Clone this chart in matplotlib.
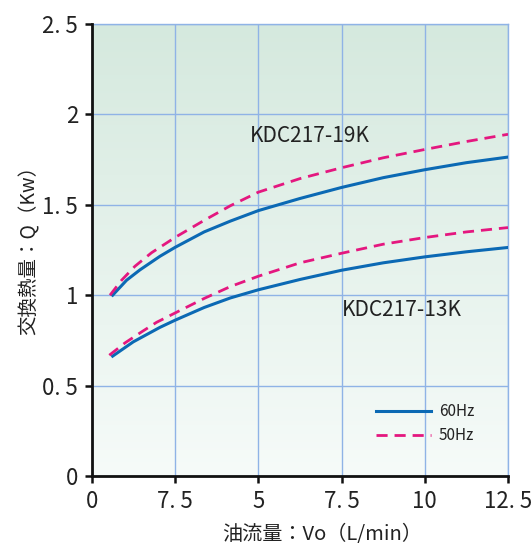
import matplotlib
matplotlib.use("Agg")
import matplotlib.pyplot as plt
import numpy as np

# ---- data ----
x_19k_60 = [0.62, 1.04, 1.44, 2.04, 2.5, 3.37, 4.16, 5.0, 6.25, 7.5, 8.75, 10.0, 11.25, 12.5]
q_19k_60 = [1.00, 1.083, 1.14, 1.215, 1.265, 1.35, 1.41, 1.468, 1.535, 1.596, 1.65, 1.694, 1.733, 1.764]
x_19k_50 = [0.54, 0.89, 1.29, 1.79, 2.5, 3.37, 4.16, 5.0, 6.25, 7.5, 8.75, 10.0, 11.25, 12.5]
q_19k_50 = [1.00, 1.083, 1.16, 1.235, 1.32, 1.414, 1.495, 1.57, 1.645, 1.705, 1.76, 1.806, 1.85, 1.89]
x_13k_60 = [0.62, 1.24, 2.04, 2.5, 3.37, 4.16, 5.0, 6.25, 7.5, 8.75, 10.0, 11.25, 12.5]
q_13k_60 = [0.663, 0.742, 0.822, 0.862, 0.932, 0.985, 1.03, 1.087, 1.138, 1.179, 1.212, 1.24, 1.264]
x_13k_50 = [0.52, 0.99, 1.49, 1.94, 2.5, 3.37, 4.16, 5.0, 6.25, 7.5, 8.75, 10.0, 11.25, 12.5]
q_13k_50 = [0.668, 0.736, 0.797, 0.85, 0.902, 0.982, 1.048, 1.105, 1.179, 1.232, 1.282, 1.319, 1.35, 1.374]

x_ticks = [0, 2.5, 5, 7.5, 10, 12.5]
x_tick_labels = ["0", "7. 5", "5", "7. 5", "10", "12. 5"]
y_ticks = [0, 0.5, 1, 1.5, 2, 2.5]
y_tick_labels = ["0", "0. 5", "1", "1. 5", "2", "2. 5"]

series_labels = ["60Hz", "50Hz"]
model_labels = ["KDC217-19K", "KDC217-13K"]
x_label = "油流量：Vo（L/min）"
y_label = "交換熱量：Q（Kw）"

BLUE = "#0b69b4"
PINK = "#e4177f"
GRID = "#8fb3e6"
TXT = "#222222"
FONT = ["Noto Sans CJK JP", "DejaVu Sans"]

fig = plt.figure(figsize=(5.32, 5.47), dpi=100)
ax = fig.add_axes([92/532, 1-476/547, (508-92)/532, (476-24)/547])
ax.set_xlim(0, 12.5)
ax.set_ylim(0, 2.5)

# gradient background
top = np.array([213, 233, 222]) / 255
bot = np.array([246, 251, 249]) / 255
t = np.linspace(0, 1, 256)[:, None]
grad = (top[None, :] * (1 - t) + bot[None, :] * t)[:, None, :]
ax.imshow(grad, extent=[0, 12.5, 0, 2.5], aspect="auto", zorder=0, origin="upper")

ax.set_xticks(x_ticks)
ax.set_yticks(y_ticks)
ax.grid(True, color=GRID, linewidth=1.0, zorder=1)
ax.set_axisbelow(False)

ln60, = ax.plot(x_19k_60, q_19k_60, color=BLUE, lw=2.2, zorder=3, label=series_labels[0],
                solid_joinstyle="round")
ln50, = ax.plot(x_19k_50, q_19k_50, color=PINK, lw=2.0, dashes=(4, 2.5), zorder=3,
                label=series_labels[1])
ax.plot(x_13k_60, q_13k_60, color=BLUE, lw=2.2, zorder=3, solid_joinstyle="round")
ax.plot(x_13k_50, q_13k_50, color=PINK, lw=2.0, dashes=(4, 2.5), zorder=3)

ax.text(4.75, 1.845, model_labels[0], fontsize=15, family=FONT, color=TXT, zorder=4)
ax.text(7.51, 0.885, model_labels[1], fontsize=15, family=FONT, color=TXT, zorder=4)

leg = ax.legend(handles=[ln60, ln50], loc="lower left", bbox_to_anchor=(0.65, 0.04),
                frameon=False, handlelength=3.6, handletextpad=0.5, labelspacing=0.45,
                prop={"family": FONT, "size": 11})
for txt in leg.get_texts():
    txt.set_color(TXT)

ax.set_xticklabels(x_tick_labels, family=FONT, fontsize=16, color=TXT)
ax.set_yticklabels(y_tick_labels, family=FONT, fontsize=16, color=TXT)
ax.tick_params(axis="both", direction="out", length=5, width=1.8, color="#111111", pad=5)

for s in ["left", "bottom"]:
    ax.spines[s].set_linewidth(2.0)
    ax.spines[s].set_color("#111111")
    ax.spines[s].set_zorder(5)
for s in ["top", "right"]:
    ax.spines[s].set_color(GRID)
    ax.spines[s].set_linewidth(1.0)

ax.set_xlabel(x_label, family=FONT, fontsize=14.5, color=TXT, labelpad=8, x=0.553)
ax.set_ylabel(y_label, family=FONT, fontsize=14, color=TXT, labelpad=2, y=0.511)

fig.savefig("out.png", dpi=100)
